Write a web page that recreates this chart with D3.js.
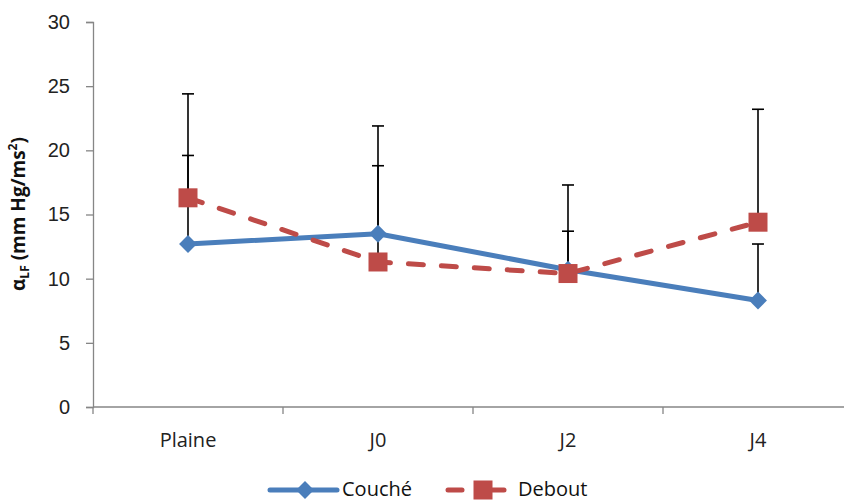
<!DOCTYPE html>
<html>
<head>
<meta charset="utf-8">
<script src="https://cdn.jsdelivr.net/npm/d3@7"></script>
<style>
  body { margin: 0; background: #fff; }
  svg { display: block; font-family: "Open Sans", "Noto Sans", sans-serif; }
</style>
</head>
<body>
<svg id="chart" width="844" height="503"></svg>
<script>
// Phases of the protocol
const categories = ["Plaine", "J0", "J2", "J4"];

// Mean alpha-LF per posture
const coucheMean = [12.7, 13.5, 10.7, 8.3];
const deboutMean = [16.3, 11.3, 10.4, 14.4];

// Upper error bar ends (mean + SD)
const coucheUpper = [19.6, 21.9, 13.7, 12.7];
const deboutUpper = [24.4, 18.8, 17.3, 23.2];

const yTicks = [0, 5, 10, 15, 20, 25, 30];

const svg = d3.select("#chart");
const axisColor = "#868686";
const blue = "#4A7EBB";
const red = "#BE4B48";
const fontSize = 20;

const x = d3.scaleBand().domain(categories).range([93, 853]);
const y = d3.scaleLinear().domain([0, 30]).range([407, 22]);
const cx = c => x(c) + x.bandwidth() / 2;

// Y axis
const yAxis = svg.append("g").attr("transform", "translate(93,0)")
  .call(d3.axisLeft(y).tickValues(yTicks).tickSize(7).tickPadding(16));
yAxis.select(".domain").attr("stroke", axisColor).attr("stroke-width", 1.3);
yAxis.selectAll(".tick line").attr("stroke", axisColor).attr("stroke-width", 1.3);
yAxis.selectAll(".tick text").attr("fill", "#222").attr("font-size", fontSize);

// X axis: ticks on band boundaries
const xAxisG = svg.append("g").attr("transform", "translate(0,407)");
xAxisG.append("line").attr("x1", 93).attr("x2", 853)
  .attr("stroke", axisColor).attr("stroke-width", 1.3);
const bounds = categories.map(c => x(c)).concat([x(categories[categories.length - 1]) + x.bandwidth()]);
xAxisG.selectAll("line.tk").data(bounds).join("line").attr("class", "tk")
  .attr("x1", d => d).attr("x2", d => d).attr("y1", 0).attr("y2", 7)
  .attr("stroke", axisColor).attr("stroke-width", 1.3);
xAxisG.selectAll("text").data(categories).join("text")
  .attr("x", d => cx(d)).attr("y", 40)
  .attr("text-anchor", "middle").attr("font-size", fontSize).attr("fill", "#222")
  .text(d => d);

// Y axis title
const yt = svg.append("text")
  .attr("transform", "translate(25,214) rotate(-90)")
  .attr("text-anchor", "middle").attr("font-size", 19).attr("font-weight", "bold").attr("fill", "#111");
yt.append("tspan").text("α");
yt.append("tspan").attr("font-size", 12).attr("dy", 4).text("LF");
yt.append("tspan").attr("dy", -4).text(" (mm Hg/ms");
yt.append("tspan").attr("font-size", 12).attr("dy", -8).text("2");
yt.append("tspan").attr("dy", 8).text(")");

// Error bars (upper only)
function errorBars(means, uppers) {
  const g = svg.append("g");
  categories.forEach((c, i) => {
    g.append("line").attr("x1", cx(c)).attr("x2", cx(c))
      .attr("y1", y(means[i])).attr("y2", y(uppers[i]))
      .attr("stroke", "#000").attr("stroke-width", 1.6);
    g.append("line").attr("x1", cx(c) - 6).attr("x2", cx(c) + 6)
      .attr("y1", y(uppers[i])).attr("y2", y(uppers[i]))
      .attr("stroke", "#000").attr("stroke-width", 1.6);
  });
}
errorBars(coucheMean, coucheUpper);
errorBars(deboutMean, deboutUpper);

const line = d3.line().x((d, i) => cx(categories[i])).y(d => y(d));

// Couché series
svg.append("path").datum(coucheMean).attr("d", line)
  .attr("fill", "none").attr("stroke", blue).attr("stroke-width", 5)
  .attr("stroke-linejoin", "round");
// Debout series
svg.append("path").datum(deboutMean).attr("d", line)
  .attr("fill", "none").attr("stroke", red).attr("stroke-width", 5)
  .attr("stroke-dasharray", "15,18").attr("stroke-linecap", "round");

const diamond = d3.symbol().type(d3.symbolSquare).size(160);
svg.append("g").selectAll("path").data(coucheMean).join("path")
  .attr("d", diamond)
  .attr("transform", (d, i) => `translate(${cx(categories[i])},${y(d)}) rotate(45)`)
  .attr("fill", blue);
svg.append("g").selectAll("rect").data(deboutMean).join("rect")
  .attr("x", (d, i) => cx(categories[i]) - 9.5).attr("y", d => y(d) - 9.5)
  .attr("width", 19).attr("height", 19).attr("fill", red);

// Legend
const lg = svg.append("g").attr("transform", "translate(0,490)");
lg.append("line").attr("x1", 270).attr("x2", 337).attr("stroke", blue).attr("stroke-width", 5).attr("stroke-linecap", "round");
lg.append("path").attr("d", diamond).attr("transform", "translate(305,0) rotate(45)").attr("fill", blue);
lg.append("text").attr("x", 342).attr("y", 6).attr("font-size", fontSize).attr("fill", "#111").text("Couché");
lg.append("line").attr("x1", 448).attr("x2", 462).attr("stroke", red).attr("stroke-width", 5).attr("stroke-linecap", "round");
lg.append("line").attr("x1", 490).attr("x2", 504).attr("stroke", red).attr("stroke-width", 5).attr("stroke-linecap", "round");
lg.append("rect").attr("x", 473.5).attr("y", -9.5).attr("width", 19).attr("height", 19).attr("fill", red);
lg.append("text").attr("x", 518).attr("y", 6).attr("font-size", fontSize).attr("fill", "#111").text("Debout");
</script>
</body>
</html>
